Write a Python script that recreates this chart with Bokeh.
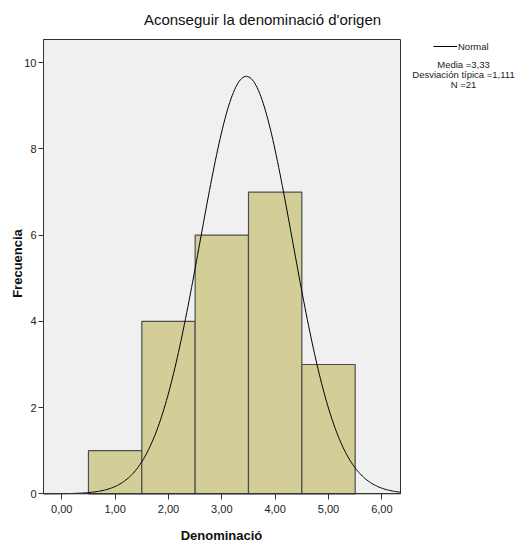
import numpy as np
from bokeh.plotting import figure
from bokeh.models import (FixedTicker, Range1d, Label, Legend, LegendItem,
                          LinearAxis, BoxAnnotation)
from bokeh.embed import file_html
from bokeh.resources import INLINE

# ---- data ----
bin_centers = [1, 2, 3, 4, 5]
counts = [1, 4, 6, 7, 3]
bin_width = 1.0
x_ticks = [0, 1, 2, 3, 4, 5, 6]
x_tick_labels = ["0,00", "1,00", "2,00", "3,00", "4,00", "5,00", "6,00"]
y_ticks = [0, 2, 4, 6, 8, 10]
y_tick_labels = ["0", "2", "4", "6", "8", "10"]
stat_mean = 3.33
stat_sd = 1.111
stat_n = 21
# normal curve as drawn (centre / spread measured on the picture)
curve_mean = 3.46
curve_sd = 0.865

title_text = "Aconseguir la denominació d'origen"
x_label = "Denominació"
y_label = "Frecuencia"
legend_label = "Normal"

# plot-area limits (data units)
X0, X1 = -0.343, 6.35
Y0, Y1 = 0.0, 10.54

NARROW = "'Liberation Sans Narrow', 'Liberation Sans', sans-serif"
SANS = "'Liberation Sans', Arial, sans-serif"

W, H = 517, 543
# pixel geometry of the plot area inside the canvas
PX_LEFT, PX_RIGHT, PX_TOP, PX_BOTTOM = 43.0, 400.0, 39.0, 493.3
sx = (PX_RIGHT - PX_LEFT) / (X1 - X0)
sy = (PX_BOTTOM - PX_TOP) / (Y1 - Y0)
xr = Range1d(X0 - PX_LEFT / sx, X1 + (W - PX_RIGHT) / sx)
yr = Range1d(Y0 - (H - PX_BOTTOM) / sy, Y1 + PX_TOP / sy)

p = figure(width=W, height=H, x_range=xr, y_range=yr, title=None,
           output_backend="svg", toolbar_location=None, min_border=0,
           x_axis_location=None, y_axis_location=None)
p.background_fill_color = "white"
p.border_fill_color = "white"
p.outline_line_color = None
p.xgrid.visible = False
p.ygrid.visible = False

# grey plot area with its frame
p.add_layout(BoxAnnotation(left=X0, right=X1, bottom=Y0, top=Y1, level="underlay",
                           fill_color="#F0F0F0", fill_alpha=1,
                           line_color="#333333", line_width=1, line_alpha=1))

left = [c - bin_width / 2 for c in bin_centers]
right = [c + bin_width / 2 for c in bin_centers]
p.quad(left=left, right=right, bottom=0, top=counts,
       fill_color="#D3CE98", line_color="#4d4d4d", line_width=1.2)

xs = np.linspace(X0, X1, 300)
ys = stat_n * bin_width / (curve_sd * np.sqrt(2 * np.pi)) * np.exp(-0.5 * ((xs - curve_mean) / curve_sd) ** 2)
curve = p.line(xs, ys, line_color="black", line_width=1)

xaxis = LinearAxis(fixed_location=Y0, bounds=(X0, X1))
yaxis = LinearAxis(fixed_location=X0, bounds=(Y0, Y1))
p.add_layout(xaxis, "below")
p.add_layout(yaxis, "left")
for ax, ticks, labels in ((xaxis, x_ticks, x_tick_labels), (yaxis, y_ticks, y_tick_labels)):
    ax.ticker = FixedTicker(ticks=ticks)
    ax.major_label_overrides = {t: l for t, l in zip(ticks, labels)}
    ax.minor_tick_line_color = None
    ax.major_tick_in = 0
    ax.axis_line_color = "#333333"
    ax.major_tick_line_color = "#333333"
    ax.major_label_text_font = NARROW
    ax.major_label_text_font_size = "11px"
    ax.major_label_text_color = "#222222"
xaxis.major_tick_out = 6
xaxis.major_label_standoff = 5
yaxis.major_tick_out = 5
yaxis.major_label_standoff = 2

# title and axis titles
p.add_layout(Label(x=262, y=H - 19, x_units="screen", y_units="screen", text=title_text,
                   text_align="center", text_baseline="middle",
                   text_font=SANS, text_font_size="15px", text_color="#111111"))
p.add_layout(Label(x=221, y=H - 535, x_units="screen", y_units="screen", text=x_label,
                   text_align="center", text_baseline="middle", text_font_style="bold",
                   text_font=SANS, text_font_size="13px", text_color="#111111"))
p.add_layout(Label(x=17, y=H - 263, x_units="screen", y_units="screen", text=y_label,
                   angle=90, angle_units="deg",
                   text_align="center", text_baseline="middle", text_font_style="bold",
                   text_font=SANS, text_font_size="13px", text_color="#111111"))

# legend (location is the bottom-left corner of the key, from the canvas bottom)
legend = Legend(items=[LegendItem(label=legend_label, renderers=[curve])],
                location=(433, H - 53), padding=0, margin=0, spacing=0,
                glyph_width=24, glyph_height=14, label_standoff=1,
                label_text_font=NARROW, label_text_font_size="9.5px",
                label_text_color="#222222", label_height=14,
                border_line_alpha=0, background_fill_alpha=0)
p.add_layout(legend)

stats = ["Media =" + f"{stat_mean:.2f}".replace(".", ","),
         "Desviación típica =" + f"{stat_sd:.3f}".replace(".", ","),
         "N =" + str(stat_n)]
for i, s in enumerate(stats):
    p.add_layout(Label(x=463, y=H - (64 + 10 * i), x_units="screen", y_units="screen", text=s,
                       text_align="center", text_baseline="middle",
                       text_font=NARROW, text_font_size="9.5px", text_color="#222222"))

open("out.html", "w").write(file_html(p, INLINE))
